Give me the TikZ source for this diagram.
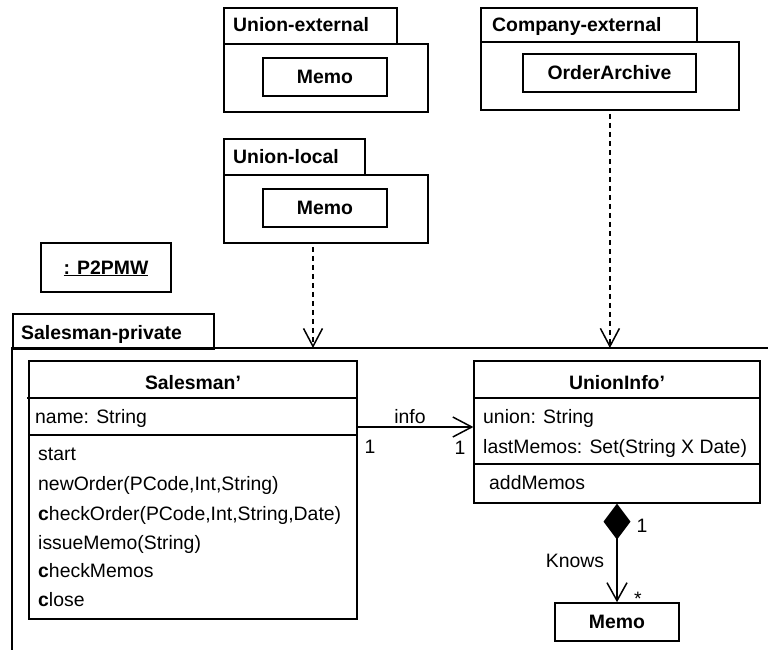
\documentclass[tikz,border=0pt]{standalone}
\usepackage{fontspec}
\setmainfont{Liberation Sans}
\usetikzlibrary{arrows.meta}

\begin{document}
\begin{tikzpicture}[x=1pt,y=-1pt,
  font=\fontsize{19.4}{23}\selectfont,
  pkg/.style={draw, line width=1.8pt, inner sep=0pt, anchor=north west},
  inbox/.style={draw, line width=1.7pt, inner sep=0pt, font=\fontsize{19.4}{23}\selectfont\bfseries},
  cls/.style={draw, line width=1.2pt, inner sep=0pt},
  txt/.style={inner sep=0pt, anchor=base west},
  ctxt/.style={inner sep=0pt, anchor=base},
  dep/.style={line width=1.5pt, dash pattern=on 5pt off 4pt,
    -{Straight Barb[length=18pt,width=19pt,line width=1.5pt]}},
  assoc/.style={line width=1.5pt,
    -{Straight Barb[length=19pt,width=20pt,line width=1.5pt]}}
]
\useasboundingbox (0,0) rectangle (768,650);
\fill[white] (0,0) rectangle (768,650);

% Union-external package
\node[pkg, minimum width=204pt, minimum height=68pt] (uebody) at (223,43) {};
\node[pkg, minimum width=173pt, minimum height=36pt] (uetab) at (223,7) {};
\node[txt] (uetitle) at (233,32) {\textbf{Union-external}};
\node[inbox, minimum width=124pt, minimum height=38pt] (uememo) at (325,77) {Memo};

% Company-external package
\node[pkg, minimum width=258pt, minimum height=68pt] (cebody) at (480,41) {};
\node[pkg, minimum width=216pt, minimum height=34pt] (cetab) at (480,7) {};
\node[txt] (cetitle) at (492,32) {\textbf{Company-external}};
\node[inbox, minimum width=173pt, minimum height=38pt] (archive) at (609.5,73) {OrderArchive};

% Union-local package
\node[pkg, minimum width=204pt, minimum height=68pt] (ulbody) at (223,174) {};
\node[pkg, minimum width=141pt, minimum height=36pt] (ultab) at (223,138) {};
\node[txt] (ultitle) at (233,164) {\textbf{Union-local}};
\node[inbox, minimum width=124pt, minimum height=38pt] (ulmemo) at (325,208) {Memo};

% object box
\node[draw, line width=1.7pt, inner sep=0pt, minimum width=130pt, minimum height=49pt] (p2pmw) at (106,267.5) {};
\node[ctxt] (p2pmwlabel) at (106,274) {\textbf{\underline{: P2PMW}}};

% Salesman-private package
\node[pkg, minimum width=201pt, minimum height=35pt] (sptab) at (12,313) {};
\node[txt] (sptitle) at (21,339) {\textbf{Salesman-private}};
\draw[line width=1.8pt] (770,348) -- (12,348) -- (12,652);
\coordinate (ltgt) at (313,348);
\coordinate (rtgt) at (609,348);

% class Salesman'
\node[cls, minimum width=328pt, minimum height=258pt] (sm) at (193,490) {};
\draw[line width=1.2pt] (27,398) -- (357,398);
\draw[line width=1.2pt] (29,435) -- (357,435);
\node[ctxt] (smtitle) at (193,389) {\textbf{Salesman'}};
\node[txt] at (35,423) {name: String};
\node[txt] at (38,460) {start};
\node[txt] at (38,490) {newOrder(PCode,Int,String)};
\node[txt] at (38,520) {\textbf{c}heckOrder(PCode,Int,String,Date)};
\node[txt] at (38,549) {issueMemo(String)};
\node[txt] at (38,577) {\textbf{c}heckMemos};
\node[txt] at (38,606) {\textbf{c}lose};

% class UnionInfo'
\node[cls, minimum width=286pt, minimum height=142pt] (ui) at (617,432) {};
\draw[line width=1.2pt] (474,398) -- (760,398);
\draw[line width=1.2pt] (474,464) -- (760,464);
\node[ctxt] (uititle) at (617,389) {\textbf{UnionInfo'}};
\node[txt] at (483,423) {union: String};
\node[txt] at (483,453) {lastMemos: Set(String X Date)};
\node[txt] at (489,489) {addMemos};

% class Memo
\node[cls, line width=1.6pt, minimum width=124pt, minimum height=38pt, font=\fontsize{19.4}{23}\selectfont\bfseries] (memo) at (617,622) {Memo};

% dependencies
\draw[dep] (ulbody.south -| ltgt) ++(0,3) -- (ltgt);
\draw[dep] (cebody.south) ++(0,3) -- (cebody.south |- rtgt);

% association info
\coordinate (infoy) at (0,427);
\draw[assoc] (sm.east |- infoy) -- (ui.west |- infoy);
\node[ctxt] (infolabel) at (410,423) {info};
\node[ctxt] at (370,453) {1};
\node[ctxt] at (460,454) {1};

% composition Knows
\draw[line width=1.5pt, {Diamond[length=36pt,width=27pt]}-{Straight Barb[length=18pt,width=20pt,line width=1.5pt]}] (ui.south) -- (memo.north);
\node[ctxt] at (642,532) {1};
\node[ctxt] at (575,567) {Knows};
\node[ctxt] at (638,605) {*};
\end{tikzpicture}
\end{document}
